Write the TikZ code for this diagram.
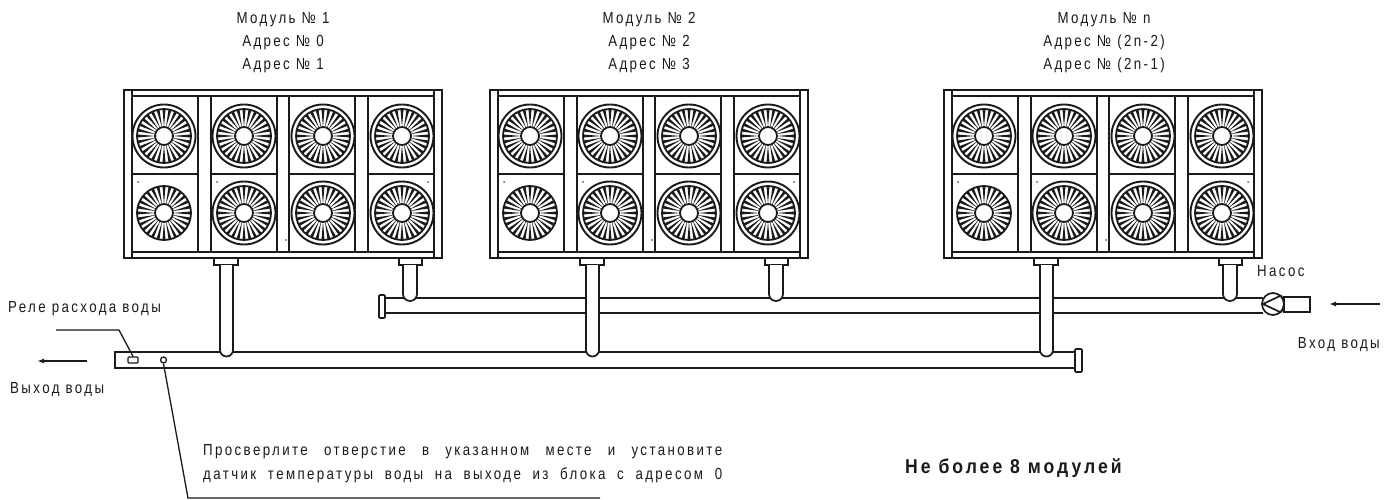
\documentclass[tikz,border=0pt]{standalone}
\usepackage{fontspec}
\usetikzlibrary{calc,arrows.meta}
\setmainfont{Liberation Sans}
\newfontfamily\lblfont[FakeStretch=0.83,LetterSpace=15]{Liberation Sans}
\newfontfamily\lblboldfont[FakeStretch=0.88,LetterSpace=15]{Liberation Sans Bold}
\definecolor{ink}{HTML}{1A1A1A}
\tikzset{
  lbl/.style={inner sep=0pt,text=ink,font=\lblfont\fontsize{16}{18}\selectfont},
  ln/.style={draw=ink,line width=1.7pt},
  thin line/.style={draw=ink,line width=1.3pt},
  pipe/.style={draw=ink,line width=1.7pt,fill=white},
  pics/fan/.style={code={
    \foreach \a in {0,12.857,...,359} {\fill[ink] (\a-3.2:27) -- (\a:8.5) -- (\a+3.2:27) -- cycle;}
    \draw[ink,line width=1.8pt] (0,0) circle[radius=27];
    \draw[ink,line width=1.8pt,fill=white] (0,0) circle[radius=9];
    \if#1r
      \draw[ink,line width=1.9pt] (0,0) circle[radius=31.5];
    \fi
  }},
  pics/unit/.style={code={
    \draw[ln] (0,0) rectangle (318,168);
    \draw[ln] (8,0) -- (8,168) (310,0) -- (310,168);
    \draw[ln] (8,6) -- (310,6) (8,162) -- (310,162);
    \foreach \x in {74,87,153,165,231,244} {\draw[ln] (\x,6) -- (\x,162);}
    \draw[ln] (8,84) -- (74,84) (87,84) -- (153,84) (165,84) -- (231,84) (244,84) -- (310,84);
    \foreach \x in {40,120,199,278} {\path (\x,46) pic {fan=r};}
    \path (40,123) pic {fan=n};
    \foreach \x in {120,199,278} {\path (\x,123) pic {fan=r};}
    \foreach \x/\y in {14/92,93/92,162/150,304/92} {\fill[ink!70] (\x,\y) circle[radius=1];}
    \draw[pipe] (90,168) rectangle (114,175);
    \draw[pipe] (275,168) rectangle (298,175);
    \coordinate (-long) at (102.5,175);
    \coordinate (-short) at (286,175);
  }},
}
\begin{document}
\begin{tikzpicture}[x=1pt,y=-1pt]
\useasboundingbox (0,0) rectangle (1393,500);
\fill[white] (0,0) rectangle (1393,500);
% units
\path (124,90) pic (m1) {unit};
\path (490,90) pic (m2) {unit};
\path (944,90) pic (m3) {unit};
% titles
\node[lbl] (t1a) at (283,19.5) {Модуль № 1};
\node[lbl] (t1b) at (283,42.5) {Адрес № 0};
\node[lbl] (t1c) at (283,65.5) {Адрес № 1};
\node[lbl] (t2a) at (649,19.5) {Модуль № 2};
\node[lbl] (t2b) at (649,42.5) {Адрес № 2};
\node[lbl] (t2c) at (649,65.5) {Адрес № 3};
\node[lbl] (t3a) at (1104,19.5) {Модуль № n};
\node[lbl] (t3b) at (1104,42.5) {Адрес № (2n-2)};
\node[lbl] (t3c) at (1104,65.5) {Адрес № (2n-1)};
% upper header
\draw[ln] (385,298) -- (1263,298) (385,313) -- (1263,313);
\draw[pipe,rounded corners=1pt] (379,295) rectangle (385,318);
% short stubs
\foreach \m in {m1,m2,m3} {
  \draw[pipe] ($(\m-short)+(-7,0)$) -- ++(0,29) arc[start angle=180,end angle=0,x radius=7,y radius=7] -- ($(\m-short)+(7,0)$);
}
% lower header
\draw[ln] (115,352) rectangle (1075,368);
\draw[pipe,rounded corners=1pt] (1075,349) rectangle (1082,372);
% long stubs
\foreach \m in {m1,m2,m3} {
  \draw[pipe] ($(\m-long)+(-6.5,0)$) -- ++(0,85) arc[start angle=180,end angle=0,x radius=6.5,y radius=6.5] -- ($(\m-long)+(6.5,0)$);
}
% pump
\draw[ln,fill=white] (1284,297) rectangle (1310,312);
\node[circle,draw=ink,line width=1.7pt,fill=white,minimum size=22pt,inner sep=0pt] (pump) at (1273,304) {};
\draw[ln] (1281,295.5) -- (1263,304) -- (1281,312.5);
\draw[ln] (1281,295.5) arc[start angle=-40,end angle=40,radius=13];
\node[lbl,anchor=west] (pumpl) at (1257,271) {Насос};
% arrows
\coordinate (inS) at (1380,304);
\coordinate (inE) at (1329,304);
\draw[ln,-{Latex[length=7pt,width=5pt]}] (inS) -- (inE);
\node[lbl,anchor=east] (inl) at (1380,344.5) {Вход воды};
\coordinate (outS) at (87,361);
\coordinate (outE) at (37,361);
\draw[ln,-{Latex[length=7pt,width=5pt]}] (outS) -- (outE);
\node[lbl,anchor=west] (outl) at (10,389.5) {Выход воды};
% relay
\node[draw=ink,line width=1.3pt,rounded corners=1pt,minimum width=10pt,minimum height=6pt,inner sep=0pt] (relay) at (133,360) {};
\node[lbl,anchor=west] (relayl) at (8,308.5) {Реле расхода воды};
\coordinate (relayA) at (56,330);
\coordinate (relayB) at (119,330);
\draw[thin line] (relayA) -- (relayB) -- (relay.north);
% sensor
\node[circle,draw=ink,line width=1.3pt,minimum size=6pt,inner sep=0pt] (sensor) at (163.5,360) {};
\coordinate (sensB) at (188,498);
\coordinate (sensC) at (600,498);
\draw[thin line] (sensor.south) -- (sensB) -- (sensC);
% notes
\node[lbl,anchor=west] (note1) at (203,451.5) {\makebox[519pt][s]{Просверлите отверстие в указанном месте и установите}};
\node[lbl,anchor=west] (note2) at (203,475.5) {\makebox[519pt][s]{датчик температуры воды на выходе из блока с адресом 0}};
\node[inner sep=0pt,text=ink,anchor=west,font=\lblboldfont\fontsize{20}{22}\selectfont] (max) at (905,468.5) {Не более 8 модулей};
\end{tikzpicture}
\end{document}
